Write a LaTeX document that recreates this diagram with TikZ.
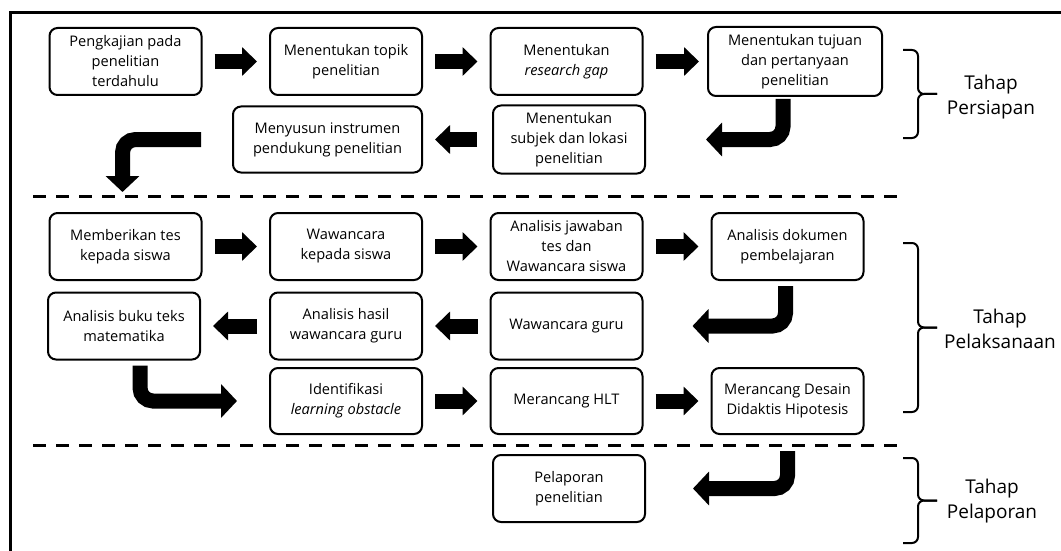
\documentclass[tikz,border=0pt]{standalone}
\usepackage{fontspec}
\setmainfont{Open Sans}
\usetikzlibrary{arrows.meta}

\tikzset{
	box/.style={draw, line width=2pt, rounded corners=8pt, align=center, inner sep=2pt,
		minimum width=152pt, minimum height=67pt, font=\fontsize{14.6}{20}\selectfont},
	bigarrow/.style={line width=15pt, shorten <=12pt, shorten >=12pt,
		-{Triangle[length=15pt,width=28pt]}},
	turnarrow/.style={line width=15pt, rounded corners=13pt,
		-{Triangle[length=16pt,width=33pt]}},
	sepline/.style={line width=3pt, dash pattern=on 13pt off 10pt},
	stagebrace/.style={line width=2pt, rounded corners=6pt},
	stagelabel/.style={align=center, font=\fontsize{19}{25}\selectfont}
}

\begin{document}
\begin{tikzpicture}[x=1pt, y=-1pt]
		\useasboundingbox (0, 0) rectangle (1061, 551);
		\clip (0, 0) rectangle (1061, 551);
		\draw[line width=3pt] (10, 13) rectangle (1080, 570);

		% tahap persiapan
		\node[box] (kajian) at (125.5, 61.5) {Pengkajian pada\\penelitian\\terdahulu};
		\node[box] (topik) at (346, 61.5) {Menentukan topik\\penelitian};
		\node[box] (gap) at (566.5, 61.5) {Menentukan\\\textit{research gap}};
		\node[box, minimum width=174pt, minimum height=69pt] (tujuan) at (795, 61.5) {Menentukan tujuan\\dan pertanyaan\\penelitian};
		\node[box, minimum height=68pt] (subjek) at (569, 139.5) {Menentukan\\subjek dan lokasi\\penelitian};
		\node[box, minimum width=189pt, minimum height=66pt] (instrumen) at (327.5, 139.5) {Menyusun instrumen\\pendukung penelitian};

		\draw[bigarrow] (kajian) -- (topik);
		\draw[bigarrow] (topik) -- (gap);
		\draw[bigarrow, shorten >=8pt] (gap) -- (tujuan);
		\draw[turnarrow, shorten <=2pt] ([xshift=-12pt]tujuan.south) |- ([xshift=60pt]subjek.east);
		\draw[bigarrow, shorten <=15pt] (subjek) -- (instrumen);

		\draw[sepline] (33, 196) -- (902, 196);

		% tahap pelaksanaan
		\node[box] (tes) at (125.5, 246.5) {Memberikan tes\\kepada siswa};
		\node[box] (wawsiswa) at (346, 246.5) {Wawancara\\kepada siswa};
		\node[box] (jawaban) at (566.5, 246.5) {Analisis jawaban\\tes dan\\Wawancara siswa};
		\node[box] (dokumen) at (787.5, 246.5) {Analisis dokumen\\pembelajaran};
		\node[box] (buku) at (124, 326) {Analisis buku teks\\matematika};
		\node[box] (hasil) at (346, 326) {Analisis hasil\\wawancara guru};
		\node[box] (wawguru) at (566.5, 326) {Wawancara guru};
		\node[box, minimum height=66pt] (obstacle) at (346, 401) {Identifikasi\\\textit{learning obstacle}};
		\node[box, minimum height=66pt] (hlt) at (566.5, 401) {Merancang HLT};
		\node[box, minimum height=66pt] (desain) at (787.5, 401) {Merancang Desain\\Didaktis Hipotesis};

		\draw[turnarrow] ([xshift=-31pt]instrumen.west) -| ([xshift=-3pt, yshift=20pt]tes.north);
		\draw[bigarrow] (tes) -- (wawsiswa);
		\draw[bigarrow] (wawsiswa) -- (jawaban);
		\draw[bigarrow] (jawaban) -- (dokumen);
		\draw[turnarrow, shorten <=5pt] ([xshift=-2pt]dokumen.south) |- ([xshift=49pt]wawguru.east);
		\draw[bigarrow] (wawguru) -- (hasil);
		\draw[bigarrow] (hasil) -- (buku);
		\draw[turnarrow, shorten <=5pt] ([xshift=16pt]buku.south) |- ([xshift=-32pt]obstacle.west);
		\draw[bigarrow] (obstacle) -- (hlt);
		\draw[bigarrow] (hlt) -- (desain);

		\draw[sepline] (33, 445) -- (902, 445);

		% tahap pelaporan
		\node[box] (laporan) at (569, 488.5) {Pelaporan\\penelitian};
		\draw[turnarrow, shorten <=16pt] (desain.south) |- ([xshift=47pt]laporan.east);

		% kurung kurawal
		\draw[stagebrace] (903, 50) -- (918, 50) -- (918, 94) -- (937, 94);
		\draw[stagebrace] (903, 138) -- (918, 138) -- (918, 94) -- (937, 94);
		\draw[stagebrace] (903, 243) -- (918, 243) -- (918, 327.5) -- (937, 327.5);
		\draw[stagebrace] (903, 412) -- (918, 412) -- (918, 327.5) -- (937, 327.5);
		\draw[stagebrace] (903, 458) -- (918, 458) -- (918, 500.5) -- (937, 500.5);
		\draw[stagebrace] (903, 543) -- (918, 543) -- (918, 500.5) -- (937, 500.5);
		\node[stagelabel] (persiapan) at (991, 97) {Tahap\\Persiapan};
		\node[stagelabel] (pelaksanaan) at (1000, 329) {Tahap\\Pelaksanaan};
		\node[stagelabel] (pelaporan) at (992, 501) {Tahap\\Pelaporan};
	\end{tikzpicture}
\end{document}
